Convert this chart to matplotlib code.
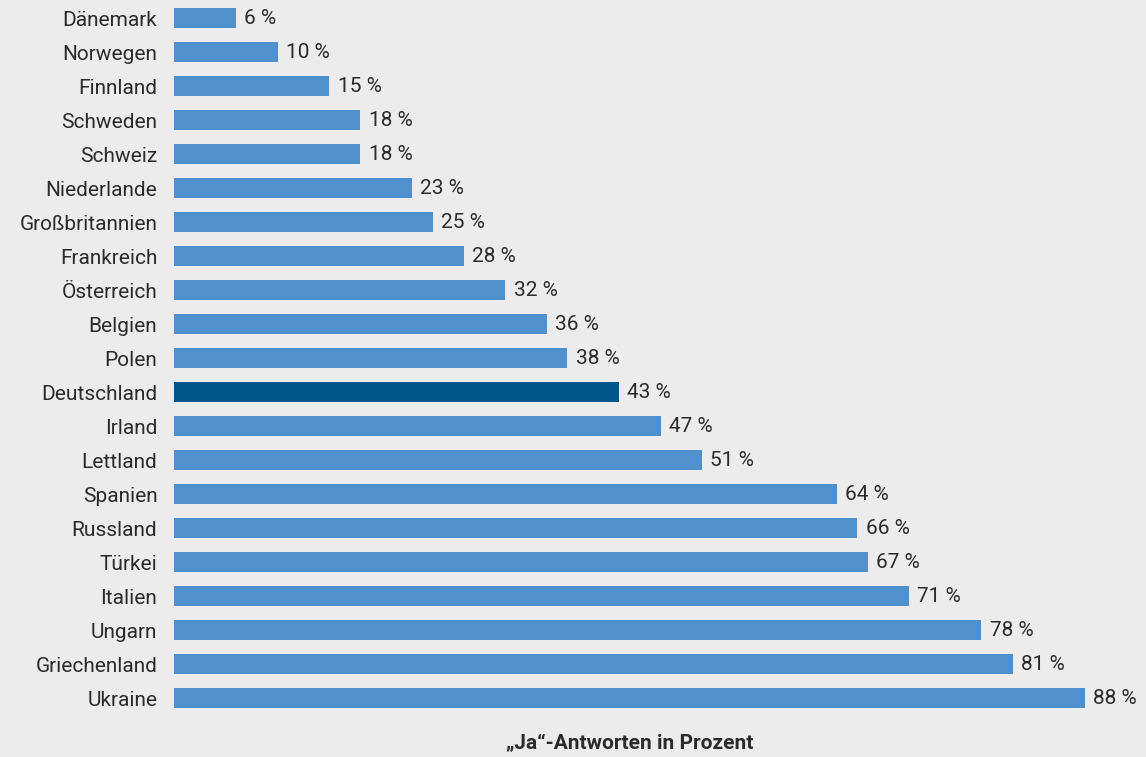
import matplotlib.pyplot as plt

laender = ["Dänemark", "Norwegen", "Finnland", "Schweden", "Schweiz", "Niederlande",
           "Großbritannien", "Frankreich", "Österreich", "Belgien", "Polen", "Deutschland",
           "Irland", "Lettland", "Spanien", "Russland", "Türkei", "Italien", "Ungarn",
           "Griechenland", "Ukraine"]
werte = [6, 10, 15, 18, 18, 23, 25, 28, 32, 36, 38, 43, 47, 51, 64, 66, 67, 71, 78, 81, 88]

plt.rcParams['font.family'] = ['Roboto', 'DejaVu Sans']

bg = '#ececec'
fig = plt.figure(figsize=(11.46, 7.57), dpi=100, facecolor=bg)
ax = fig.add_axes([174 / 1146, 1 - 715 / 757, (1085 - 174) / 1146, 714 / 757])
ax.set_facecolor(bg)

farben = ['#02558b' if l == "Deutschland" else '#4f90cd' for l in laender]
y = list(range(len(laender)))
ax.barh(y, werte, height=0.56, color=farben)

for yi, w in zip(y, werte):
    ax.text(w + 0.8, yi, f"{w} %", va='center', ha='left', fontsize=15, color='#2b2b2b')

ax.set_xlim(0, 88)
ax.set_ylim(len(laender) - 0.5, -0.5)
ax.set_yticks(y)
ax.set_yticklabels(laender, fontsize=15, color='#2b2b2b')
ax.tick_params(axis='y', length=0, pad=12)
ax.set_xticks([])
for s in ax.spines.values():
    s.set_visible(False)

fig.text(630 / 1146, 1 - 744 / 757, "„Ja“-Antworten in Prozent", ha='center', va='center',
         fontsize=15, fontweight='bold', color='#2b2b2b')

fig.savefig('out.png', dpi=100, facecolor=bg)
